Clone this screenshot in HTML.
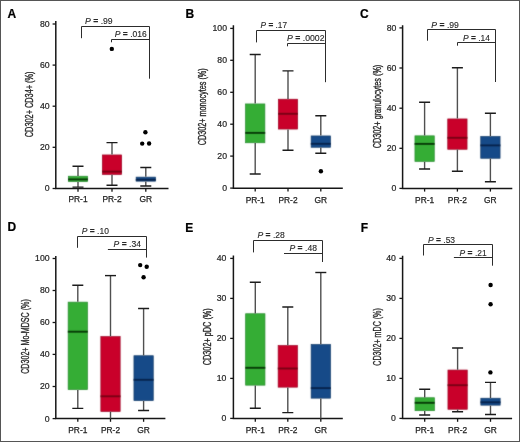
<!DOCTYPE html>
<html><head><meta charset="utf-8"><style>
html,body{margin:0;padding:0;background:#fff;}
body{width:520px;height:442px;overflow:hidden;}
svg{display:block;will-change:transform;}
text{font-family:"Liberation Sans",sans-serif;fill:#2a2a2a;}
.lt{font-size:12px;font-weight:bold;fill:#000;stroke:#000;stroke-width:0.2px;}
.yl{font-size:10.1px;stroke:#2a2a2a;stroke-width:0.36px;fill:#2a2a2a;}
.tl{font-size:8.7px;text-anchor:end;fill:#262626;stroke:#262626;stroke-width:0.22px;}
.xl{font-size:8.4px;text-anchor:middle;fill:#222;stroke:#222;stroke-width:0.25px;}
.pv{font-size:8.3px;fill:#262626;stroke:#262626;stroke-width:0.12px;}
.ax{fill:none;stroke:#161616;stroke-width:1.5;}
.tk{fill:none;stroke:#161616;stroke-width:1.3;}
.wh{fill:none;stroke:#505050;stroke-width:1.4;}
.cap{fill:none;stroke:#1c1c1c;stroke-width:1.4;}
.br{fill:none;stroke:#2c2c2c;stroke-width:1.0;}
</style></head><body>
<svg width="520" height="442" viewBox="0 0 520 442">
<defs><filter id="bl" x="0" y="0" width="520" height="442" filterUnits="userSpaceOnUse" color-interpolation-filters="sRGB"><feConvolveMatrix order="3" kernelMatrix="1 2 1 2 20 2 1 2 1" edgeMode="duplicate" preserveAlpha="true"/></filter></defs>
<rect x="0" y="0" width="520" height="442" fill="#fff"/>
<g>
<rect x="68.35" y="176.25" width="19.3" height="5.3" fill="#35ad35" stroke="#23892a" stroke-width="0.7"/>
<path d="M68,179.4H88" stroke="#063a06" stroke-width="1.9"/>
<rect x="102.35" y="154.95" width="19.3" height="19.5" fill="#c9002a" stroke="#9c0022" stroke-width="0.7"/>
<path d="M102,171.6H122" stroke="#7a0014" stroke-width="1.9"/>
<rect x="136.15" y="177.15" width="19.3" height="4" fill="#164a88" stroke="#0e3766" stroke-width="0.7"/>
<path d="M135.8,179.8H155.8" stroke="#06234d" stroke-width="1.9"/>
<rect x="245.55" y="103.95" width="19.3" height="38.8" fill="#35ad35" stroke="#23892a" stroke-width="0.7"/>
<path d="M245.2,132.9H265.2" stroke="#063a06" stroke-width="1.9"/>
<rect x="278.35" y="99.25" width="19.3" height="29.8" fill="#c9002a" stroke="#9c0022" stroke-width="0.7"/>
<path d="M278,113.8H298" stroke="#7a0014" stroke-width="1.9"/>
<rect x="311.15" y="135.95" width="19.3" height="11.3" fill="#164a88" stroke="#0e3766" stroke-width="0.7"/>
<path d="M310.8,143.8H330.8" stroke="#06234d" stroke-width="1.9"/>
<rect x="414.95" y="135.85" width="19.3" height="25.5" fill="#35ad35" stroke="#23892a" stroke-width="0.7"/>
<path d="M414.6,143.9H434.6" stroke="#063a06" stroke-width="1.9"/>
<rect x="447.75" y="118.95" width="19.3" height="30.3" fill="#c9002a" stroke="#9c0022" stroke-width="0.7"/>
<path d="M447.4,137.8H467.4" stroke="#7a0014" stroke-width="1.9"/>
<rect x="480.75" y="136.55" width="19.3" height="21.7" fill="#164a88" stroke="#0e3766" stroke-width="0.7"/>
<path d="M480.4,145.4H500.4" stroke="#06234d" stroke-width="1.9"/>
<rect x="68.15" y="302.15" width="19.3" height="87.4" fill="#35ad35" stroke="#23892a" stroke-width="0.7"/>
<path d="M67.8,331.7H87.8" stroke="#063a06" stroke-width="1.9"/>
<rect x="100.85" y="336.65" width="19.3" height="74.8" fill="#c9002a" stroke="#9c0022" stroke-width="0.7"/>
<path d="M100.5,396.3H120.5" stroke="#7a0014" stroke-width="1.9"/>
<rect x="133.95" y="355.75" width="19.3" height="44.8" fill="#164a88" stroke="#0e3766" stroke-width="0.7"/>
<path d="M133.6,379.8H153.6" stroke="#06234d" stroke-width="1.9"/>
<rect x="245.65" y="313.75" width="19.3" height="71.4" fill="#35ad35" stroke="#23892a" stroke-width="0.7"/>
<path d="M245.3,367.8H265.3" stroke="#063a06" stroke-width="1.9"/>
<rect x="278.15" y="345.55" width="19.3" height="41.6" fill="#c9002a" stroke="#9c0022" stroke-width="0.7"/>
<path d="M277.8,368.5H297.8" stroke="#7a0014" stroke-width="1.9"/>
<rect x="311.15" y="344.55" width="19.3" height="53.6" fill="#164a88" stroke="#0e3766" stroke-width="0.7"/>
<path d="M310.8,388.1H330.8" stroke="#06234d" stroke-width="1.9"/>
<rect x="415.05" y="397.75" width="19.3" height="12.9" fill="#35ad35" stroke="#23892a" stroke-width="0.7"/>
<path d="M414.7,402.8H434.7" stroke="#063a06" stroke-width="1.9"/>
<rect x="447.95" y="370.05" width="19.3" height="39.2" fill="#c9002a" stroke="#9c0022" stroke-width="0.7"/>
<path d="M447.6,385.2H467.6" stroke="#7a0014" stroke-width="1.9"/>
<rect x="480.85" y="398.25" width="19.3" height="6.9" fill="#164a88" stroke="#0e3766" stroke-width="0.7"/>
<path d="M480.5,402.3H500.5" stroke="#06234d" stroke-width="1.9"/>
</g>
<g filter="url(#bl)">
<rect x="0" y="0" width="520" height="442" fill="#fff"/>
<rect x="68.35" y="176.25" width="19.3" height="5.3" fill="#35ad35" stroke="#23892a" stroke-width="0.7"/>
<path d="M68,179.4H88" stroke="#063a06" stroke-width="1.9"/>
<rect x="102.35" y="154.95" width="19.3" height="19.5" fill="#c9002a" stroke="#9c0022" stroke-width="0.7"/>
<path d="M102,171.6H122" stroke="#7a0014" stroke-width="1.9"/>
<rect x="136.15" y="177.15" width="19.3" height="4" fill="#164a88" stroke="#0e3766" stroke-width="0.7"/>
<path d="M135.8,179.8H155.8" stroke="#06234d" stroke-width="1.9"/>
<rect x="245.55" y="103.95" width="19.3" height="38.8" fill="#35ad35" stroke="#23892a" stroke-width="0.7"/>
<path d="M245.2,132.9H265.2" stroke="#063a06" stroke-width="1.9"/>
<rect x="278.35" y="99.25" width="19.3" height="29.8" fill="#c9002a" stroke="#9c0022" stroke-width="0.7"/>
<path d="M278,113.8H298" stroke="#7a0014" stroke-width="1.9"/>
<rect x="311.15" y="135.95" width="19.3" height="11.3" fill="#164a88" stroke="#0e3766" stroke-width="0.7"/>
<path d="M310.8,143.8H330.8" stroke="#06234d" stroke-width="1.9"/>
<rect x="414.95" y="135.85" width="19.3" height="25.5" fill="#35ad35" stroke="#23892a" stroke-width="0.7"/>
<path d="M414.6,143.9H434.6" stroke="#063a06" stroke-width="1.9"/>
<rect x="447.75" y="118.95" width="19.3" height="30.3" fill="#c9002a" stroke="#9c0022" stroke-width="0.7"/>
<path d="M447.4,137.8H467.4" stroke="#7a0014" stroke-width="1.9"/>
<rect x="480.75" y="136.55" width="19.3" height="21.7" fill="#164a88" stroke="#0e3766" stroke-width="0.7"/>
<path d="M480.4,145.4H500.4" stroke="#06234d" stroke-width="1.9"/>
<rect x="68.15" y="302.15" width="19.3" height="87.4" fill="#35ad35" stroke="#23892a" stroke-width="0.7"/>
<path d="M67.8,331.7H87.8" stroke="#063a06" stroke-width="1.9"/>
<rect x="100.85" y="336.65" width="19.3" height="74.8" fill="#c9002a" stroke="#9c0022" stroke-width="0.7"/>
<path d="M100.5,396.3H120.5" stroke="#7a0014" stroke-width="1.9"/>
<rect x="133.95" y="355.75" width="19.3" height="44.8" fill="#164a88" stroke="#0e3766" stroke-width="0.7"/>
<path d="M133.6,379.8H153.6" stroke="#06234d" stroke-width="1.9"/>
<rect x="245.65" y="313.75" width="19.3" height="71.4" fill="#35ad35" stroke="#23892a" stroke-width="0.7"/>
<path d="M245.3,367.8H265.3" stroke="#063a06" stroke-width="1.9"/>
<rect x="278.15" y="345.55" width="19.3" height="41.6" fill="#c9002a" stroke="#9c0022" stroke-width="0.7"/>
<path d="M277.8,368.5H297.8" stroke="#7a0014" stroke-width="1.9"/>
<rect x="311.15" y="344.55" width="19.3" height="53.6" fill="#164a88" stroke="#0e3766" stroke-width="0.7"/>
<path d="M310.8,388.1H330.8" stroke="#06234d" stroke-width="1.9"/>
<rect x="415.05" y="397.75" width="19.3" height="12.9" fill="#35ad35" stroke="#23892a" stroke-width="0.7"/>
<path d="M414.7,402.8H434.7" stroke="#063a06" stroke-width="1.9"/>
<rect x="447.95" y="370.05" width="19.3" height="39.2" fill="#c9002a" stroke="#9c0022" stroke-width="0.7"/>
<path d="M447.6,385.2H467.6" stroke="#7a0014" stroke-width="1.9"/>
<rect x="480.85" y="398.25" width="19.3" height="6.9" fill="#164a88" stroke="#0e3766" stroke-width="0.7"/>
<path d="M480.5,402.3H500.5" stroke="#06234d" stroke-width="1.9"/>
</g>
<text x="7.6" y="18.1" class="lt">A</text>
<text transform="translate(33.2,137.2) rotate(-90)" x="0" y="0" class="yl" textLength="65.7" lengthAdjust="spacingAndGlyphs">CD302+ CD34+ (%)</text>
<path d="M55.8,21V188.5H168.5" class="ax"/>
<path d="M52.6,188.5H55.8" class="tk"/>
<text x="49.6" y="191.4" class="tl">0</text>
<path d="M52.6,147.3H55.8" class="tk"/>
<text x="49.6" y="150.2" class="tl">20</text>
<path d="M52.6,106.2H55.8" class="tk"/>
<text x="49.6" y="109.1" class="tl">40</text>
<path d="M52.6,65.1H55.8" class="tk"/>
<text x="49.6" y="68" class="tl">60</text>
<path d="M52.6,24H55.8" class="tk"/>
<text x="49.6" y="26.9" class="tl">80</text>
<path d="M78,188.5v3.2" class="tk"/>
<text x="78" y="202.4" class="xl">PR-1</text>
<path d="M112,188.5v3.2" class="tk"/>
<text x="112" y="202.4" class="xl">PR-2</text>
<path d="M145.8,188.5v3.2" class="tk"/>
<text x="145.8" y="202.4" class="xl">GR</text>
<path d="M78,166.3V175.9M78,181.9V187.1" class="wh"/>
<path d="M72.5,166.3H83.5M72.5,187.1H83.5" class="cap"/>
<path d="M112,142.6V154.6M112,174.8V185.2" class="wh"/>
<path d="M106.5,142.6H117.5M106.5,185.2H117.5" class="cap"/>
<circle cx="111.8" cy="48.9" r="2.2" fill="#000"/>
<path d="M145.8,167.5V176.8M145.8,181.5V186" class="wh"/>
<path d="M140.3,167.5H151.3M140.3,186H151.3" class="cap"/>
<circle cx="145.4" cy="132.3" r="2.2" fill="#000"/>
<circle cx="142.2" cy="143.6" r="2.2" fill="#000"/>
<circle cx="149.1" cy="143.5" r="2.2" fill="#000"/>
<path d="M81.5,38.2V26.5H149.5V78.7" class="br"/>
<path d="M111.5,42.3V39.5H149.5" class="br"/>
<text x="85" y="23.5" class="pv" textLength="27.7" lengthAdjust="spacingAndGlyphs"><tspan font-style="italic">P</tspan>&#160;<tspan font-weight="bold">=</tspan>&#160;.99</text>
<text x="114.7" y="36.9" class="pv" textLength="32.1" lengthAdjust="spacingAndGlyphs"><tspan font-style="italic">P</tspan>&#160;<tspan font-weight="bold">=</tspan>&#160;.016</text>
<text x="185.5" y="18.1" class="lt">B</text>
<text transform="translate(206.4,145.3) rotate(-90)" x="0" y="0" class="yl" textLength="77" lengthAdjust="spacingAndGlyphs">CD302+ monocytes (%)</text>
<path d="M233.4,25.2V188.3H342.8" class="ax"/>
<path d="M230.2,188.1H233.4" class="tk"/>
<text x="227" y="191" class="tl">0</text>
<path d="M230.2,156.1H233.4" class="tk"/>
<text x="227" y="159" class="tl">20</text>
<path d="M230.2,124.2H233.4" class="tk"/>
<text x="227" y="127.1" class="tl">40</text>
<path d="M230.2,92.3H233.4" class="tk"/>
<text x="227" y="95.2" class="tl">60</text>
<path d="M230.2,60.3H233.4" class="tk"/>
<text x="227" y="63.2" class="tl">80</text>
<path d="M230.2,28.4H233.4" class="tk"/>
<text x="227" y="31.3" class="tl">100</text>
<path d="M255.2,188.3v3.2" class="tk"/>
<text x="255.2" y="202.5" class="xl">PR-1</text>
<path d="M288,188.3v3.2" class="tk"/>
<text x="288" y="202.5" class="xl">PR-2</text>
<path d="M320.8,188.3v3.2" class="tk"/>
<text x="320.8" y="202.5" class="xl">GR</text>
<path d="M255.2,54.5V103.6M255.2,143.1V174" class="wh"/>
<path d="M249.7,54.5H260.7M249.7,174H260.7" class="cap"/>
<path d="M288,70.9V98.9M288,129.4V150.3" class="wh"/>
<path d="M282.5,70.9H293.5M282.5,150.3H293.5" class="cap"/>
<path d="M320.8,115.7V135.6M320.8,147.6V153.3" class="wh"/>
<path d="M315.3,115.7H326.3M315.3,153.3H326.3" class="cap"/>
<circle cx="320.9" cy="171.3" r="2.2" fill="#000"/>
<path d="M256.5,42.4V30.5H325.5V82.2" class="br"/>
<path d="M287.5,46.3V43.5H325.5" class="br"/>
<text x="260.6" y="27.7" class="pv" textLength="26.4" lengthAdjust="spacingAndGlyphs"><tspan font-style="italic">P</tspan>&#160;<tspan font-weight="bold">=</tspan>&#160;.17</text>
<text x="287" y="41" class="pv" textLength="37.5" lengthAdjust="spacingAndGlyphs"><tspan font-style="italic">P</tspan>&#160;<tspan font-weight="bold">=</tspan>&#160;.0002</text>
<text x="360" y="18.1" class="lt">C</text>
<text transform="translate(381,148.3) rotate(-90)" x="0" y="0" class="yl" textLength="83.6" lengthAdjust="spacingAndGlyphs">CD302+ granulocytes (%)</text>
<path d="M402.6,25.3V188.4H512.3" class="ax"/>
<path d="M399.4,188.4H402.6" class="tk"/>
<text x="396.4" y="191.3" class="tl">0</text>
<path d="M399.4,148.3H402.6" class="tk"/>
<text x="396.4" y="151.2" class="tl">20</text>
<path d="M399.4,108.2H402.6" class="tk"/>
<text x="396.4" y="111.1" class="tl">40</text>
<path d="M399.4,68H402.6" class="tk"/>
<text x="396.4" y="70.9" class="tl">60</text>
<path d="M399.4,27.9H402.6" class="tk"/>
<text x="396.4" y="30.8" class="tl">80</text>
<path d="M424.6,188.4v3.2" class="tk"/>
<text x="424.6" y="202.5" class="xl">PR-1</text>
<path d="M457.4,188.4v3.2" class="tk"/>
<text x="457.4" y="202.5" class="xl">PR-2</text>
<path d="M490.4,188.4v3.2" class="tk"/>
<text x="490.4" y="202.5" class="xl">GR</text>
<path d="M424.6,102.3V135.5M424.6,161.7V169" class="wh"/>
<path d="M419.1,102.3H430.1M419.1,169H430.1" class="cap"/>
<path d="M457.4,67.7V118.6M457.4,149.6V171.3" class="wh"/>
<path d="M451.9,67.7H462.9M451.9,171.3H462.9" class="cap"/>
<path d="M490.4,113.2V136.2M490.4,158.6V181.8" class="wh"/>
<path d="M484.9,113.2H495.9M484.9,181.8H495.9" class="cap"/>
<path d="M427.5,40.7V29.5H495.5V82" class="br"/>
<path d="M457.5,45.7V42.5H495.5" class="br"/>
<text x="431.3" y="27.6" class="pv" textLength="27.6" lengthAdjust="spacingAndGlyphs"><tspan font-style="italic">P</tspan>&#160;<tspan font-weight="bold">=</tspan>&#160;.99</text>
<text x="463" y="40.5" class="pv" textLength="27" lengthAdjust="spacingAndGlyphs"><tspan font-style="italic">P</tspan>&#160;<tspan font-weight="bold">=</tspan>&#160;.14</text>
<text x="7.5" y="231.3" class="lt">D</text>
<text transform="translate(28.9,373.8) rotate(-90)" x="0" y="0" class="yl" textLength="74.6" lengthAdjust="spacingAndGlyphs">CD302+ Mo-MDSC (%)</text>
<path d="M55.8,256V418.6H165.4" class="ax"/>
<path d="M52.6,418.6H55.8" class="tk"/>
<text x="49.6" y="421.5" class="tl">0</text>
<path d="M52.6,386.5H55.8" class="tk"/>
<text x="49.6" y="389.4" class="tl">20</text>
<path d="M52.6,354.4H55.8" class="tk"/>
<text x="49.6" y="357.3" class="tl">40</text>
<path d="M52.6,322.5H55.8" class="tk"/>
<text x="49.6" y="325.4" class="tl">60</text>
<path d="M52.6,290.5H55.8" class="tk"/>
<text x="49.6" y="293.4" class="tl">80</text>
<path d="M52.6,258.5H55.8" class="tk"/>
<text x="49.6" y="261.4" class="tl">100</text>
<path d="M77.8,418.6v3.2" class="tk"/>
<text x="77.8" y="432.7" class="xl">PR-1</text>
<path d="M110.5,418.6v3.2" class="tk"/>
<text x="110.5" y="432.7" class="xl">PR-2</text>
<path d="M143.6,418.6v3.2" class="tk"/>
<text x="143.6" y="432.7" class="xl">GR</text>
<path d="M77.8,285.2V301.8M77.8,389.9V408.4" class="wh"/>
<path d="M72.3,285.2H83.3M72.3,408.4H83.3" class="cap"/>
<path d="M110.5,275.6V336.3M110.5,411.8V418.6" class="wh"/>
<path d="M105,275.6H116" class="cap"/>
<path d="M143.6,308.5V355.4M143.6,400.9V410.5" class="wh"/>
<path d="M138.1,308.5H149.1M138.1,410.5H149.1" class="cap"/>
<circle cx="140.2" cy="265.1" r="2.2" fill="#000"/>
<circle cx="146.7" cy="266.8" r="2.2" fill="#000"/>
<circle cx="143.6" cy="277.3" r="2.2" fill="#000"/>
<path d="M77.5,247.8V236.5H146.5V257.6" class="br"/>
<path d="M107.9,249.5H146.5" class="br"/>
<text x="81.8" y="233.6" class="pv" textLength="27.1" lengthAdjust="spacingAndGlyphs"><tspan font-style="italic">P</tspan>&#160;<tspan font-weight="bold">=</tspan>&#160;.10</text>
<text x="113.6" y="246.7" class="pv" textLength="27.4" lengthAdjust="spacingAndGlyphs"><tspan font-style="italic">P</tspan>&#160;<tspan font-weight="bold">=</tspan>&#160;.34</text>
<text x="185.2" y="231.5" class="lt">E</text>
<text transform="translate(211.4,365.3) rotate(-90)" x="0" y="0" class="yl" textLength="57.1" lengthAdjust="spacingAndGlyphs">CD302+ pDC (%)</text>
<path d="M233.4,255.6V418.6H342.8" class="ax"/>
<path d="M230.2,418.4H233.4" class="tk"/>
<text x="226.4" y="421.3" class="tl">0</text>
<path d="M230.2,378.4H233.4" class="tk"/>
<text x="226.4" y="381.3" class="tl">10</text>
<path d="M230.2,338.4H233.4" class="tk"/>
<text x="226.4" y="341.3" class="tl">20</text>
<path d="M230.2,298.4H233.4" class="tk"/>
<text x="226.4" y="301.3" class="tl">30</text>
<path d="M230.2,258.4H233.4" class="tk"/>
<text x="226.4" y="261.3" class="tl">40</text>
<path d="M255.3,418.6v3.2" class="tk"/>
<text x="255.3" y="432.9" class="xl">PR-1</text>
<path d="M287.8,418.6v3.2" class="tk"/>
<text x="287.8" y="432.9" class="xl">PR-2</text>
<path d="M320.8,418.6v3.2" class="tk"/>
<text x="320.8" y="432.9" class="xl">GR</text>
<path d="M255.3,282.2V313.4M255.3,385.5V408.3" class="wh"/>
<path d="M249.8,282.2H260.8M249.8,408.3H260.8" class="cap"/>
<path d="M287.8,307V345.2M287.8,387.5V412.6" class="wh"/>
<path d="M282.3,307H293.3M282.3,412.6H293.3" class="cap"/>
<path d="M320.8,272.5V344.2M320.8,398.5V418.6" class="wh"/>
<path d="M315.3,272.5H326.3" class="cap"/>
<path d="M253.5,252.4V240.5H322.5V262" class="br"/>
<path d="M284,253.5H322.5" class="br"/>
<text x="257.5" y="238" class="pv" textLength="27.4" lengthAdjust="spacingAndGlyphs"><tspan font-style="italic">P</tspan>&#160;<tspan font-weight="bold">=</tspan>&#160;.28</text>
<text x="289.5" y="251" class="pv" textLength="27.5" lengthAdjust="spacingAndGlyphs"><tspan font-style="italic">P</tspan>&#160;<tspan font-weight="bold">=</tspan>&#160;.48</text>
<text x="360.7" y="231.5" class="lt">F</text>
<text transform="translate(381,365.7) rotate(-90)" x="0" y="0" class="yl" textLength="57.5" lengthAdjust="spacingAndGlyphs">CD302+ mDC (%)</text>
<path d="M402.6,255.8V418.6H512.1" class="ax"/>
<path d="M399.4,418.4H402.6" class="tk"/>
<text x="395.9" y="421.3" class="tl">0</text>
<path d="M399.4,378.4H402.6" class="tk"/>
<text x="395.9" y="381.3" class="tl">10</text>
<path d="M399.4,338.4H402.6" class="tk"/>
<text x="395.9" y="341.3" class="tl">20</text>
<path d="M399.4,298.4H402.6" class="tk"/>
<text x="395.9" y="301.3" class="tl">30</text>
<path d="M399.4,258.4H402.6" class="tk"/>
<text x="395.9" y="261.3" class="tl">40</text>
<path d="M424.7,418.6v3.2" class="tk"/>
<text x="424.7" y="433.1" class="xl">PR-1</text>
<path d="M457.6,418.6v3.2" class="tk"/>
<text x="457.6" y="433.1" class="xl">PR-2</text>
<path d="M490.5,418.6v3.2" class="tk"/>
<text x="490.5" y="433.1" class="xl">GR</text>
<path d="M424.7,389.2V397.4M424.7,411V415" class="wh"/>
<path d="M419.2,389.2H430.2M419.2,415H430.2" class="cap"/>
<path d="M457.6,348V369.7M457.6,409.6V411.8" class="wh"/>
<path d="M452.1,348H463.1M452.1,411.8H463.1" class="cap"/>
<path d="M490.5,382.4V397.9M490.5,405.5V414.5" class="wh"/>
<path d="M485,382.4H496M485,414.5H496" class="cap"/>
<circle cx="490.4" cy="372.4" r="2.2" fill="#000"/>
<circle cx="490.6" cy="285" r="2.2" fill="#000"/>
<circle cx="490.6" cy="304.2" r="2.2" fill="#000"/>
<path d="M423.5,255.5V244.5H492.5V265.7" class="br"/>
<path d="M453.9,257.5H492.5" class="br"/>
<text x="427.9" y="242.6" class="pv" textLength="27.2" lengthAdjust="spacingAndGlyphs"><tspan font-style="italic">P</tspan>&#160;<tspan font-weight="bold">=</tspan>&#160;.53</text>
<text x="459.6" y="255.5" class="pv" textLength="27.1" lengthAdjust="spacingAndGlyphs"><tspan font-style="italic">P</tspan>&#160;<tspan font-weight="bold">=</tspan>&#160;.21</text>
<rect x="0.5" y="0.5" width="519" height="441" fill="none" stroke="#555" stroke-width="1"/>
</svg>
</body></html>
